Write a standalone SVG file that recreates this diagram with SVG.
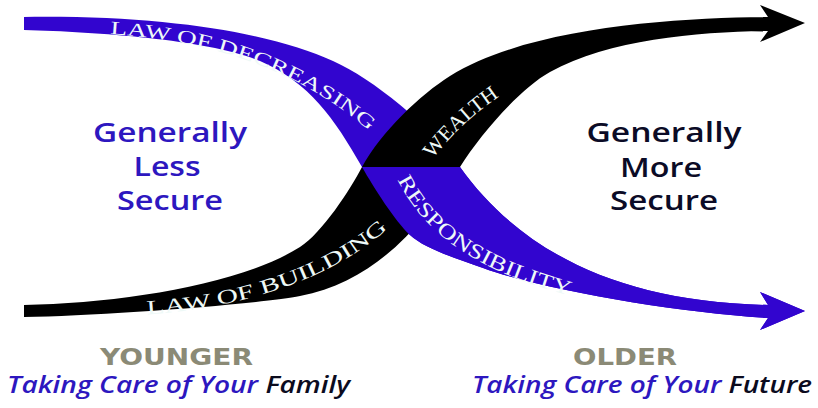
<svg xmlns="http://www.w3.org/2000/svg" xmlns:xlink="http://www.w3.org/1999/xlink" width="818" height="408" viewBox="0 0 818 408">
<style>
.band-label{font-family:"Liberation Serif","Times New Roman",serif;font-size:20px;fill:#eef9f7;}
.big{font-family:"Open Sans","Liberation Sans",sans-serif;font-weight:600;font-size:27px;text-anchor:middle;}
.left{fill:#2d17bf;}
.right{fill:#0b0b26;}
.age{font-family:"DejaVu Sans","Liberation Sans",sans-serif;font-weight:bold;font-size:23px;fill:#8b8a76;}
.care{font-family:"Open Sans","Liberation Sans",sans-serif;font-weight:600;font-style:italic;font-size:23px;fill:#2d17bf;}
.dark{fill:#0b0b1e;}
</style>
<defs>
<path id="blueBand" d="M 24,17 C 170,15 273,34 333,61 C 373,79 430,125 460,167 C 520,251 618,302 768,305 L 760,292 L 805,311 L 760,330 L 768,318 C 680,313 543,290 483,268 C 458,259 425,249 410,235 C 395,221 374,188 362,167 C 334,118 310,83 260,61 C 210,40 100,32 24,30 Z"/>
<path id="blackBand" d="M 24,305 C 120,303 240,285 300,247 C 322,233 350,190 362,167 C 382,131 420,95 450,76 C 530,26 680,18 768,17 L 760,5 L 805,23 L 760,42 L 768,31 C 700,32 610,39 550,72 C 520,88.5 480,135 460,167 C 420,231 370,283 300,296 C 260,304 100,316 24,317 Z"/>
<clipPath id="lowerHalf"><rect x="0" y="167" width="818" height="241"/></clipPath>
<path id="pDecreasing" d="M 90,33 C 200,37 298,64 383,143"/>
<path id="pBuilding" d="M 135,315 C 230,311 330,283 393,224"/>
<path id="pWealth" d="M 430,162 C 450,137 472,113 512,88"/>
<path id="pResp" d="M 396,177 C 425,237 480,272 575,297"/>
</defs>

<g id="connectors">
<use id="band-decreasing-responsibility" xlink:href="#blueBand" fill="#3205cf"/>
<use id="band-building-wealth" xlink:href="#blackBand" fill="#000000"/>
<use id="band-responsibility-front" xlink:href="#blueBand" fill="#3205cf" clip-path="url(#lowerHalf)"/>
<text class="band-label" style="font-size:19px"><textPath xlink:href="#pDecreasing" startOffset="20" textLength="282" lengthAdjust="spacingAndGlyphs">LAW OF DECREASING</textPath></text>
<text class="band-label"><textPath xlink:href="#pBuilding" startOffset="12" textLength="260" lengthAdjust="spacingAndGlyphs">LAW OF BUILDING</textPath></text>
<text class="band-label" style="font-size:21px"><textPath xlink:href="#pWealth" startOffset="4" textLength="92" lengthAdjust="spacingAndGlyphs">WEALTH</textPath></text>
<text class="band-label" style="font-size:21px"><textPath xlink:href="#pResp" startOffset="3" textLength="214" lengthAdjust="spacingAndGlyphs">RESPONSIBILITY</textPath></text>
</g>

<g id="less-secure">
<text class="big left" x="170" y="142" textLength="154" lengthAdjust="spacingAndGlyphs">Generally</text>
<text class="big left" x="167" y="176" textLength="67" lengthAdjust="spacingAndGlyphs">Less</text>
<text class="big left" x="170" y="210" textLength="106" lengthAdjust="spacingAndGlyphs">Secure</text>
</g>

<g id="more-secure">
<text class="big right" x="664" y="142" textLength="155" lengthAdjust="spacingAndGlyphs">Generally</text>
<text class="big right" x="661" y="177" textLength="82" lengthAdjust="spacingAndGlyphs">More</text>
<text class="big right" x="664" y="210" textLength="108" lengthAdjust="spacingAndGlyphs">Secure</text>
</g>

<g id="younger">
<text class="age" x="100" y="365" textLength="153" lengthAdjust="spacingAndGlyphs">YOUNGER</text>
<text class="care" x="7" y="393" textLength="343" lengthAdjust="spacingAndGlyphs">Taking Care of Your <tspan class="dark">Family</tspan></text>
</g>

<g id="older">
<text class="age" x="573" y="365" textLength="104" lengthAdjust="spacingAndGlyphs">OLDER</text>
<text class="care" x="472" y="393" textLength="340" lengthAdjust="spacingAndGlyphs">Taking Care of Your <tspan class="dark">Future</tspan></text>
</g>
</svg>
